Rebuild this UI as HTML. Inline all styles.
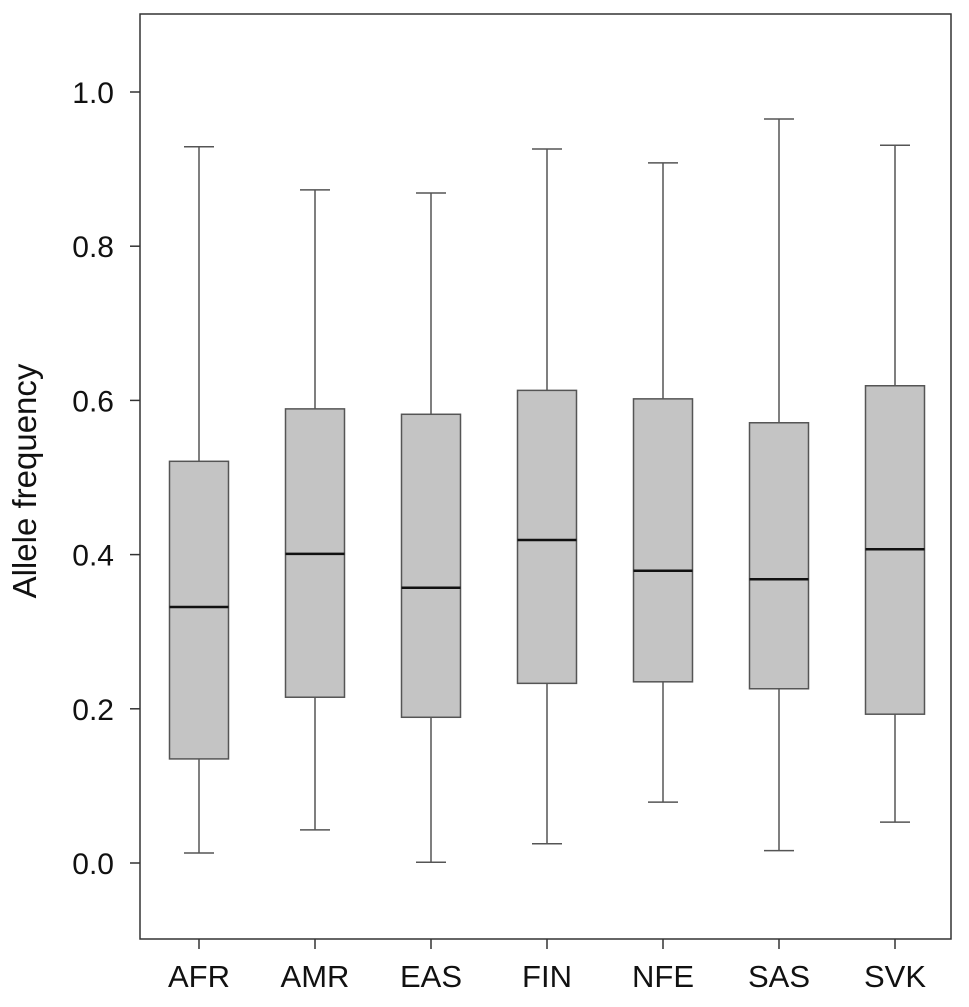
<!DOCTYPE html>
<html><head><meta charset="utf-8"><style>
body{margin:0;background:#fff}
svg text{font-family:"Liberation Sans",sans-serif;fill:#111}
</style></head><body>
<svg id="chart" width="969" height="1002">
<rect x="140" y="14" width="811" height="925" fill="none" stroke="#333" stroke-width="1.5"/>
<text x="0" y="0" transform="translate(36,481) rotate(-90)" text-anchor="middle" font-size="33">Allele frequency</text>
<g id="yaxis"></g>
<g id="boxes"></g>
<g id="xaxis"></g>
</svg>
<script>
const categories=["AFR","AMR","EAS","FIN","NFE","SAS","SVK"];
const whiskerLow=[0.013,0.043,0.001,0.025,0.079,0.016,0.053];
const q1=[0.135,0.215,0.189,0.233,0.235,0.226,0.193];
const medians=[0.332,0.401,0.357,0.419,0.379,0.368,0.407];
const q3=[0.521,0.589,0.582,0.613,0.602,0.571,0.619];
const whiskerHigh=[0.929,0.873,0.869,0.926,0.908,0.965,0.931];
const yTicks=[0,0.2,0.4,0.6,0.8,1.0];
const yTickLabels=["0.0","0.2","0.4","0.6","0.8","1.0"];
const NS="http://www.w3.org/2000/svg";
function y(v){return 863-v*771;}
function x(i){return 199+i*116;}
function mk(t,a,p){const e=document.createElementNS(NS,t);for(const k in a)e.setAttribute(k,a[k]);p.appendChild(e);return e;}
const ya=document.getElementById('yaxis'),bx=document.getElementById('boxes'),xa=document.getElementById('xaxis');
yTicks.forEach((v,i)=>{
 const l=mk('line',{x1:130,x2:140,y1:y(v),y2:y(v),stroke:'#333','stroke-width':1.5},ya);
 
 
 const t=mk('text',{x:114,y:y(v)+11,'text-anchor':'end','font-size':30},ya);
 t.textContent=yTickLabels[i];
 
 
});
categories.forEach((c,i)=>{
 const cx=x(i),g=mk('g',{},bx);
 
 
 const s={stroke:'#555','stroke-width':1.5};
 mk('line',Object.assign({x1:cx,x2:cx,y1:y(whiskerHigh[i]),y2:y(q3[i])},s),g);
 mk('line',Object.assign({x1:cx,x2:cx,y1:y(q1[i]),y2:y(whiskerLow[i])},s),g);
 mk('line',Object.assign({x1:cx-15,x2:cx+15,y1:y(whiskerHigh[i]),y2:y(whiskerHigh[i])},s),g);
 mk('line',Object.assign({x1:cx-15,x2:cx+15,y1:y(whiskerLow[i]),y2:y(whiskerLow[i])},s),g);
 mk('rect',Object.assign({x:cx-29.5,y:y(q3[i]),width:59,height:y(q1[i])-y(q3[i]),fill:'#c4c4c4'},s),g);
 mk('line',{x1:cx-29.5,x2:cx+29.5,y1:y(medians[i]),y2:y(medians[i]),stroke:'#111','stroke-width':2.5},g);
 const tk=mk('line',{x1:cx,x2:cx,y1:939,y2:949,stroke:'#333','stroke-width':1.5},xa);
 
 
 const t=mk('text',{x:cx,y:987,'text-anchor':'middle','font-size':31},xa);
 t.textContent=c;
 
 
});
</script>
</body></html>
